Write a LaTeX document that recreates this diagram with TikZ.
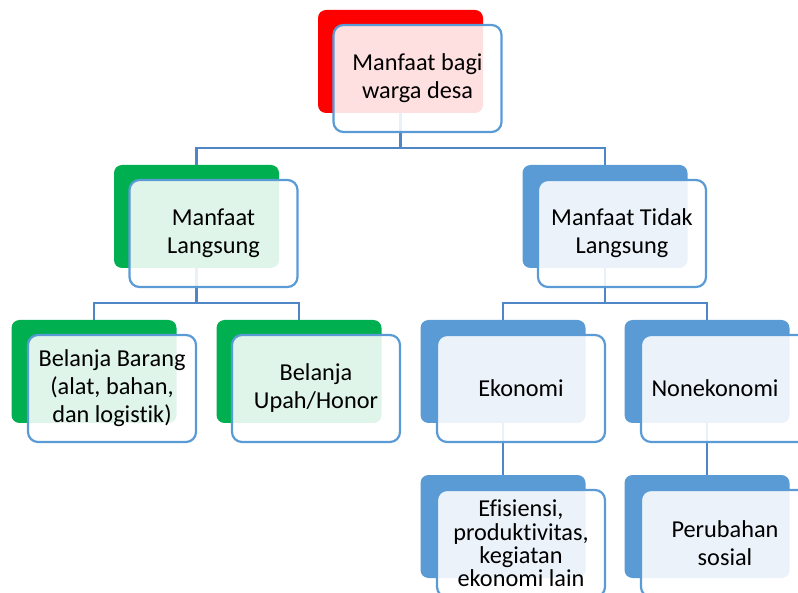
\documentclass[tikz,border=0pt]{standalone}
\usepackage{fontspec}
\setmainfont{Carlito}[Ligatures=NoCommon]
\usetikzlibrary{backgrounds}
\definecolor{cR}{HTML}{FF0000}
\definecolor{cG}{HTML}{00B050}
\definecolor{cB}{HTML}{5B9BD5}
\definecolor{cL}{HTML}{4F86C6}
\tikzset{
  back/.style={rounded corners=8pt,minimum width=165pt,minimum height=103pt,
               inner sep=0pt},
  front/.style={rounded corners=10pt,draw=cB,line width=2.2pt,fill=white,
               fill opacity=.88,text opacity=1,minimum width=168pt,
               minimum height=107pt,inner sep=2pt,align=center,
               font=\fontsize{24.3}{28}\selectfont},
  tight/.style={font=\fontsize{24.3}{23.3}\selectfont},
  link/.style={cL,line width=2.6pt},
}

\begin{document}
\begin{tikzpicture}[x=1pt,y=-1pt]
  \useasboundingbox (0,0) rectangle (798,593);
  % level 0
  \node[back,fill=cR] (bTop) at (400.5,61.5){};
  \node[front] (fTop) at ([shift={(17,17)}]bTop){Manfaat bagi\\warga desa};
  % level 1
  \node[back,fill=cG] (bML) at (196.5,216.5){};
  \node[front] (fML) at ([shift={(17,17)}]bML){Manfaat\\Langsung};
  \node[back,fill=cB] (bMTL) at (605,216.5){};
  \node[front] (fMTL) at ([shift={(17,17)}]bMTL){Manfaat Tidak\\Langsung};
  % level 2
  \node[back,fill=cG] (bBB) at (94,371.5){};
  \node[front] (fBB) at ([shift={(18,17)}]bBB){Belanja Barang\\(alat, bahan,\\dan logistik)};
  \node[back,fill=cG] (bBU) at (299,371.5){};
  \node[front] (fBU) at ([shift={(17,17)}]bBU){Belanja\\Upah/Honor};
  \node[back,fill=cB] (bEk) at (503,371.5){};
  \node[front] (fEk) at ([shift={(18,17)}]bEk){Ekonomi};
  \node[back,fill=cB] (bNe) at (707,371.5){};
  \node[front] (fNe) at ([shift={(18,17)}]bNe){\hspace*{-20pt}Nonekonomi};
  % level 3
  \node[back,fill=cB] (bEf) at (503,526.5){};
  \node[front,tight] (fEf) at ([shift={(18,17)}]bEf){Efisiensi,\\produktivitas,\\kegiatan\\ekonomi lain};
  \node[back,fill=cB] (bPe) at (707,526.5){};
  \node[front] (fPe) at ([shift={(18,17)}]bPe){Perubahan\\sosial};
  % connectors
  \begin{scope}[on background layer]
    \draw[link] (bTop.south) -- ++(0,35) -| (bML.north);
    \draw[link] (bTop.south) -- ++(0,35) -| (bMTL.north);
    \draw[link] (bML.south) -- ++(0,35) -| (bBB.north);
    \draw[link] (bML.south) -- ++(0,35) -| (bBU.north);
    \draw[link] (bMTL.south) -- ++(0,35) -| (bEk.north);
    \draw[link] (bMTL.south) -- ++(0,35) -| (bNe.north);
    \draw[link] (bEk) -- (bEf);
    \draw[link] (bNe) -- (bPe);
  \end{scope}
\end{tikzpicture}
\end{document}
